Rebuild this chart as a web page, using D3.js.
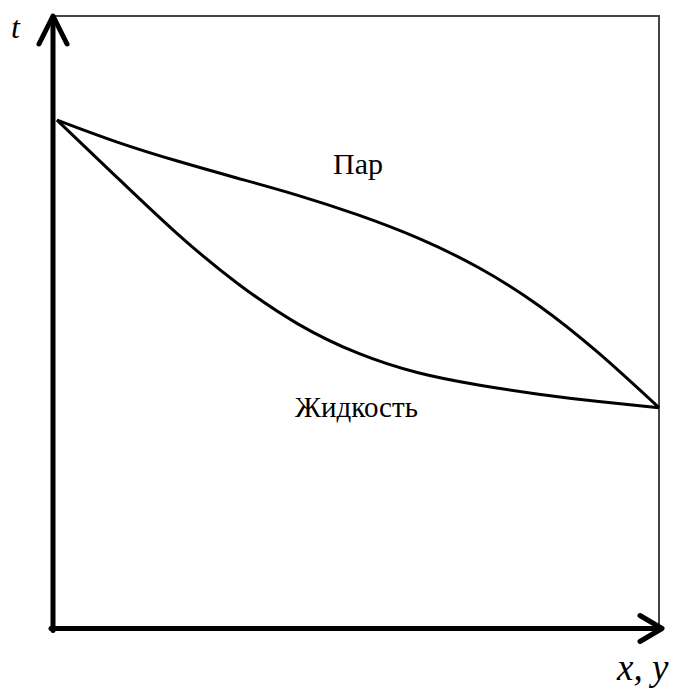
<!DOCTYPE html>
<html>
<head>
<meta charset="utf-8">
<script src="https://cdn.jsdelivr.net/npm/d3@7"></script>
<style>
  html, body { margin: 0; padding: 0; background: #fff; }
  svg { display: block; }
</style>
</head>
<body>
<svg id="chart" width="681" height="691"></svg>
<script>
// Composition (mole fraction, 0..1) along the horizontal axis
const compX   = [0, 0.1, 0.2, 0.3, 0.4, 0.5, 0.6, 0.7, 0.8, 0.9, 1];
// Dew-point temperature of the vapour at each composition
const vaporT  = [83.0, 79.4, 76.3, 73.5, 70.7, 67.5, 63.7, 58.9, 52.7, 44.9, 36.0];
// Boiling temperature of the liquid at each composition
const liquidT = [83.0, 73.6, 64.4, 56.3, 49.7, 44.9, 41.7, 39.7, 38.2, 37.0, 36.0];

const labels = { vapor: "Пар", liquid: "Жидкость", yAxis: "t", xAxis: "x, y" };

const svg = d3.select("#chart");

const x = d3.scaleLinear().domain([0, 1]).range([57, 659]);
const y = d3.scaleLinear().domain([0, 100]).range([628, 16]);

// Frame (thin grey lines at top and right)
svg.append("path")
  .attr("d", `M${x(0) - 4},${y(100)} H${x(1)} V${y(0)}`)
  .attr("fill", "none")
  .attr("stroke", "#444")
  .attr("stroke-width", 2);

// Axes with arrowheads
const axisG = svg.append("g")
  .attr("fill", "none")
  .attr("stroke", "#000")
  .attr("stroke-linecap", "round")
  .attr("stroke-linejoin", "round");

const ax0 = x(0) - 4;   // vertical axis position
const ay0 = y(0) + 0.5; // horizontal axis position

axisG.append("line")
  .attr("x1", ax0).attr("y1", ay0 + 2)
  .attr("x2", ax0).attr("y2", y(100) + 1)
  .attr("stroke-width", 5);
axisG.append("path")
  .attr("d", `M${ax0 - 14},${y(100) + 28} L${ax0},${y(100)} L${ax0 + 14},${y(100) + 28}`)
  .attr("stroke-width", 5);

axisG.append("line")
  .attr("x1", ax0 - 2).attr("y1", ay0)
  .attr("x2", x(1) + 2).attr("y2", ay0)
  .attr("stroke-width", 5);
axisG.append("path")
  .attr("d", `M${x(1) - 19},${ay0 - 13} L${x(1) + 3},${ay0} L${x(1) - 19},${ay0 + 13}`)
  .attr("stroke-width", 5);

// Vapour and liquid curves
const line = d3.line()
  .x(d => x(d[0]))
  .y(d => y(d[1]))
  .curve(d3.curveNatural);

[vaporT, liquidT].forEach(series => {
  svg.append("path")
    .datum(compX.map((v, i) => [v, series[i]]))
    .attr("d", line)
    .attr("fill", "none")
    .attr("stroke", "#000")
    .attr("stroke-width", 3);
});

// Labels
const addText = (txt, px, py, size, italic) =>
  svg.append("text")
    .attr("x", px).attr("y", py)
    .style("font-family", '"Liberation Serif"')
    .style("font-size", size + "px")
    .style("font-style", italic ? "italic" : "normal")
    .attr("fill", "#000")
    .text(txt);

addText(labels.vapor, 333, 174, 30, false);
addText(labels.liquid, 295, 417, 29, false);
addText(labels.yAxis, 11, 38, 32, true);
addText(labels.xAxis, 617, 680, 37, true);
</script>
</body>
</html>
